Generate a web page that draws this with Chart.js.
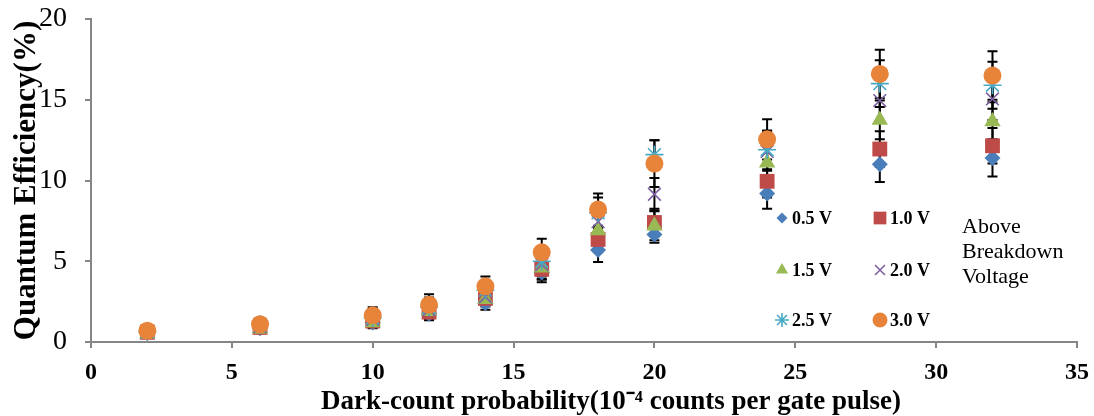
<!DOCTYPE html>
<html>
<head>
<meta charset="utf-8">
<script src="https://cdn.jsdelivr.net/npm/chart.js"></script>
<style>
  html, body { margin: 0; padding: 0; background: #fff; }
  #wrap { width: 1094px; height: 416px; }
</style>
</head>
<body>
<div id="wrap"><canvas id="myChart" width="1094" height="416"></canvas></div>

<script>
// dark-count probability (10^-4 counts per gate pulse)
const darkCount = [2, 6, 10, 12, 14, 16, 18, 20, 24, 28, 32];

// quantum efficiency (%) per bias above breakdown
const qe05 = [0.55, 0.85, 1.2, 1.75, 2.4, 4.3, 5.7, 6.65, 9.2, 11.0, 11.4];
const qe10 = [0.6, 0.9, 1.3, 1.85, 2.7, 4.5, 6.35, 7.4, 9.95, 11.95, 12.15];
const qe15 = [0.5, 0.8, 1.2, 1.9, 2.65, 4.6, 6.9, 7.2, 11.1, 13.75, 13.65];
const qe20 = [0.6, 0.95, 1.4, 2.0, 2.8, 4.8, 7.45, 9.15, 11.8, 14.95, 15.05];
const qe25 = [0.65, 1.1, 1.5, 2.15, 3.2, 5.0, 8.0, 11.6, 11.9, 16.0, 15.9];
const qe30 = [0.7, 1.1, 1.65, 2.3, 3.45, 5.55, 8.2, 11.05, 12.55, 16.6, 16.5];

// error bar half-widths
const err05 = [0.08, 0.1, 0.3, 0.4, 0.4, 0.6, 0.75, 0.5, 0.95, 1.1, 1.15];
const err10 = [0.08, 0.1, 0.3, 0.45, 0.4, 0.65, 0.8, 0.85, 1.0, 1.1, 1.1];
const err15 = [0.08, 0.1, 0.35, 0.5, 0.45, 0.7, 0.85, 0.9, 1.1, 1.2, 1.2];
const err20 = [0.1, 0.12, 0.4, 0.55, 0.5, 0.75, 0.9, 1.0, 1.2, 1.3, 1.3];
const err25 = [0.1, 0.15, 0.45, 0.6, 0.55, 0.8, 0.95, 0.9, 1.2, 1.45, 1.45];
const err30 = [0.1, 0.15, 0.5, 0.65, 0.6, 0.85, 1.0, 1.45, 1.25, 1.5, 1.5];

const seriesLabels = ['0.5 V', '1.0 V', '1.5 V', '2.0 V', '2.5 V', '3.0 V'];
const seriesValues = [qe05, qe10, qe15, qe20, qe25, qe30];
const seriesErrors = [err05, err10, err15, err20, err25, err30];
const colors = ['#4A7EBB', '#BE4B48', '#98B954', '#7D60A0', '#46AAC5', '#E8843A'];
const styles = ['rectRot', 'rect', 'triangle', 'crossRot', 'star', 'circle'];
const radii = [8, 10.5, 9.5, 9, 9, 9];
const legendRadii = [5.5, 9, 7, 7, 7, 7.5];
const xTitle = 'Dark-count probability(10\u207B\u2074 counts per gate pulse)';

const datasets = seriesLabels.map(function (lab, i) {
  const lineMark = styles[i] === 'crossRot' || styles[i] === 'star';
  return {
    label: lab,
    data: darkCount.map(function (x, j) { return { x: x, y: seriesValues[i][j] }; }),
    errors: seriesErrors[i],
    showLine: false,
    pointStyle: styles[i],
    pointRadius: radii[i],
    pointHoverRadius: radii[i],
    backgroundColor: colors[i],
    borderColor: colors[i],
    pointBorderWidth: lineMark ? 1.6 : 0,
    order: 5 - i
  };
});

const errorBars = {
  id: 'errorBars',
  beforeDatasetsDraw: function (chart) {
    const ctx = chart.ctx;
    const xs = chart.scales.x, ys = chart.scales.y;
    ctx.save();
    ctx.strokeStyle = '#000';
    ctx.lineWidth = 2;
    chart.data.datasets.forEach(function (ds) {
      ds.data.forEach(function (p, j) {
        const e = ds.errors[j];
        const px = xs.getPixelForValue(p.x);
        const t = ys.getPixelForValue(p.y + e);
        const b = ys.getPixelForValue(p.y - e);
        ctx.beginPath();
        ctx.moveTo(px, t); ctx.lineTo(px, b);
        ctx.moveTo(px - 5, t); ctx.lineTo(px + 5, t);
        ctx.moveTo(px - 5, b); ctx.lineTo(px + 5, b);
        ctx.stroke();
      });
    });
    ctx.restore();
  }
};

const legendBox = {
  id: 'legendBox',
  afterDraw: function (chart) {
    const ctx = chart.ctx;
    const cols = [782, 880];
    const rows = [218, 270, 320];
    ctx.save();
    seriesLabels.forEach(function (lab, i) {
      const cx = cols[i % 2], cy = rows[Math.floor(i / 2)];
      const lineMark = styles[i] === 'crossRot' || styles[i] === 'star';
      ctx.fillStyle = colors[i];
      ctx.strokeStyle = colors[i];
      ctx.lineWidth = lineMark ? 1.6 : 0.01;
      Chart.helpers.drawPoint(ctx, { pointStyle: styles[i], radius: legendRadii[i], rotation: 0, borderWidth: ctx.lineWidth }, cx, cy);
      ctx.fillStyle = '#000';
      ctx.font = 'bold 18px "Liberation Serif"';
      ctx.textBaseline = 'middle';
      ctx.textAlign = 'left';
      ctx.fillText(lab, cx + 10, cy + 1);
    });
    ctx.font = '22px "Liberation Serif"';
    ctx.fillStyle = '#000';
    ctx.textBaseline = 'middle';
    ['Above', 'Breakdown', 'Voltage'].forEach(function (t, k) {
      ctx.fillText(t, 962, 227 + k * 25);
    });
    // x axis title, centred a little right of the plot like the original
    ctx.font = 'bold 27px "Liberation Serif"';
    ctx.textAlign = 'center';
    ctx.fillText(xTitle, 611, 402);
    ctx.restore();
  }
};

const config = {
  type: 'scatter',
  data: { datasets: datasets },
  plugins: [errorBars, legendBox],
  options: {
    responsive: false,
    animation: false,
    events: [],
    layout: { padding: { top: 19, right: 17, left: 0, bottom: 0 } },
    plugins: { legend: { display: false }, tooltip: { enabled: false } },
    scales: {
      x: {
        type: 'linear',
        min: 0, max: 35,
        ticks: { stepSize: 5, color: '#000', padding: 10, font: { family: 'Liberation Serif', size: 24, weight: 'bold' } },
        grid: { drawOnChartArea: false, drawTicks: true, tickLength: 6, color: '#868686', lineWidth: 2 },
        border: { color: '#868686', width: 2 },
        afterFit: function (s) { s.height = 74; s.paddingLeft = 0; s.paddingRight = 0; }
      },
      y: {
        type: 'linear',
        min: 0, max: 20,
        ticks: { stepSize: 5, color: '#000', padding: 18, font: { family: 'Liberation Serif', size: 28 } },
        grid: { drawOnChartArea: false, drawTicks: true, tickLength: 6, color: '#868686', lineWidth: 2 },
        border: { color: '#868686', width: 2 },
        title: {
          display: true,
          text: 'Quantum Efficiency(%)',
          color: '#000',
          font: { family: 'Liberation Serif', size: 31, weight: 'bold' },
          padding: { top: 8, bottom: 0 }
        },
        afterFit: function (s) { s.width = 91; s.paddingTop = 0; s.paddingBottom = 0; }
      }
    }
  }
};

var myChart = new Chart(document.getElementById('myChart'), config);
</script>
</body>
</html>
